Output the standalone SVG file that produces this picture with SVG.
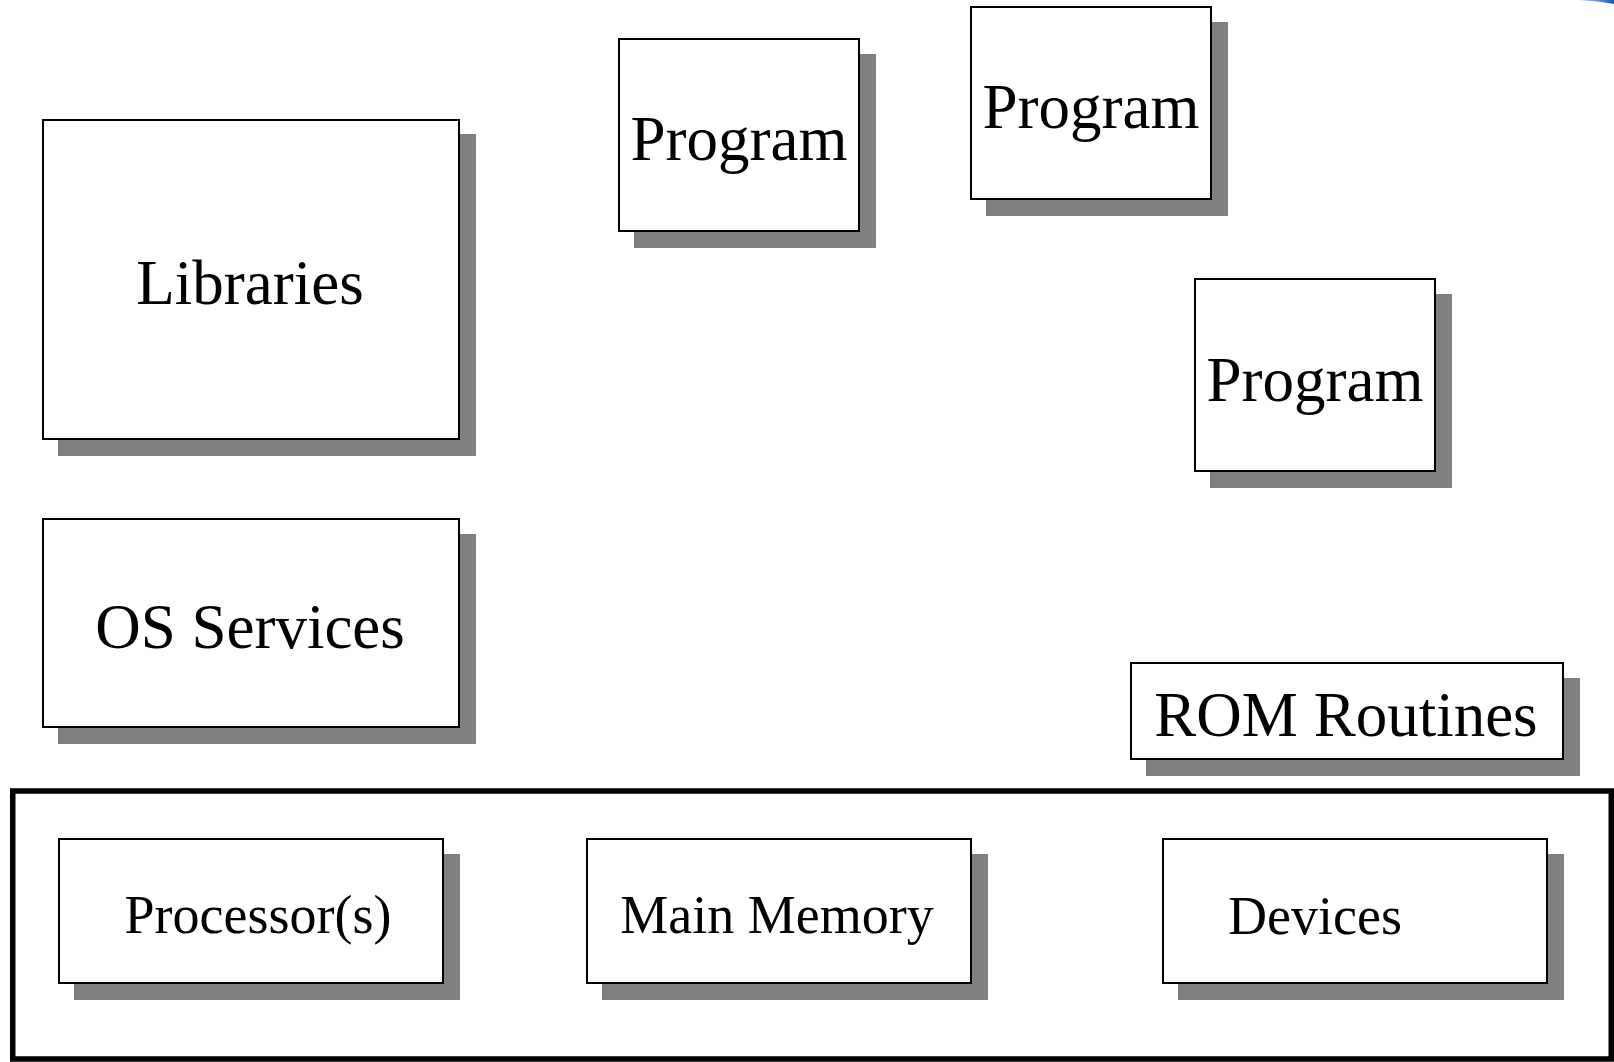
<svg xmlns="http://www.w3.org/2000/svg" width="1614" height="1062" viewBox="0 0 1614 1062">
  <defs>
    <linearGradient id="swoosh" x1="0" y1="0" x2="1" y2="0">
      <stop offset="0" stop-color="#c9d8ee"/>
      <stop offset="1" stop-color="#1f56a8"/>
    </linearGradient>
    <style>
      .box { fill: #ffffff; stroke: #000000; stroke-width: 2; }
      .shadow { fill: #808080; stroke: none; }
      .frame { fill: none; stroke: #000000; stroke-width: 5.5; }
      .big { font-family: "Liberation Serif", "Times New Roman", serif; font-size: 63px; fill: #000000; text-anchor: middle; }
      .small { font-family: "Liberation Serif", "Times New Roman", serif; font-size: 54px; fill: #000000; text-anchor: middle; }
    </style>
  </defs>
  <rect width="1614" height="1062" fill="#ffffff"/>

  <!-- corner accent -->
  <path d="M1578,0 Q1598,1 1614,4 L1614,0 Z" fill="url(#swoosh)"/>

  <!-- hardware frame -->
  <rect id="hardware" class="frame" x="12.75" y="791" width="1598.5" height="268"/>

  <g id="libraries">
    <rect class="shadow" x="58" y="134" width="418" height="322"/>
    <rect class="box" x="43" y="120" width="416" height="319"/>
    <text class="big" x="250" y="304">Libraries</text>
  </g>

  <g id="program-1">
    <rect class="shadow" x="634" y="54" width="242" height="194"/>
    <rect class="box" x="619" y="39" width="240" height="192"/>
    <text class="big" x="739" y="160">Program</text>
  </g>

  <g id="program-2">
    <rect class="shadow" x="986" y="22" width="242" height="194"/>
    <rect class="box" x="971" y="7" width="240" height="192"/>
    <text class="big" x="1091" y="128">Program</text>
  </g>

  <g id="program-3">
    <rect class="shadow" x="1210" y="294" width="242" height="194"/>
    <rect class="box" x="1195" y="279" width="240" height="192"/>
    <text class="big" x="1315" y="401">Program</text>
  </g>

  <g id="os-services">
    <rect class="shadow" x="58" y="534" width="418" height="210"/>
    <rect class="box" x="43" y="519" width="416" height="208"/>
    <text class="big" x="250" y="648">OS Services</text>
  </g>

  <g id="rom-routines">
    <rect class="shadow" x="1146" y="678" width="434" height="98"/>
    <rect class="box" x="1131" y="663" width="432" height="96"/>
    <text class="big" x="1346" y="736">ROM Routines</text>
  </g>

  <g id="processors">
    <rect class="shadow" x="74" y="854" width="386" height="146"/>
    <rect class="box" x="59" y="839" width="384" height="144"/>
    <text class="small" x="258" y="933">Processor(s)</text>
  </g>

  <g id="main-memory">
    <rect class="shadow" x="602" y="854" width="386" height="146"/>
    <rect class="box" x="587" y="839" width="384" height="144"/>
    <text class="small" x="777" y="933">Main Memory</text>
  </g>

  <g id="devices">
    <rect class="shadow" x="1178" y="854" width="386" height="146"/>
    <rect class="box" x="1163" y="839" width="384" height="144"/>
    <text class="small" x="1315" y="934">Devices</text>
  </g>

  <g id="connectors"></g>
</svg>
